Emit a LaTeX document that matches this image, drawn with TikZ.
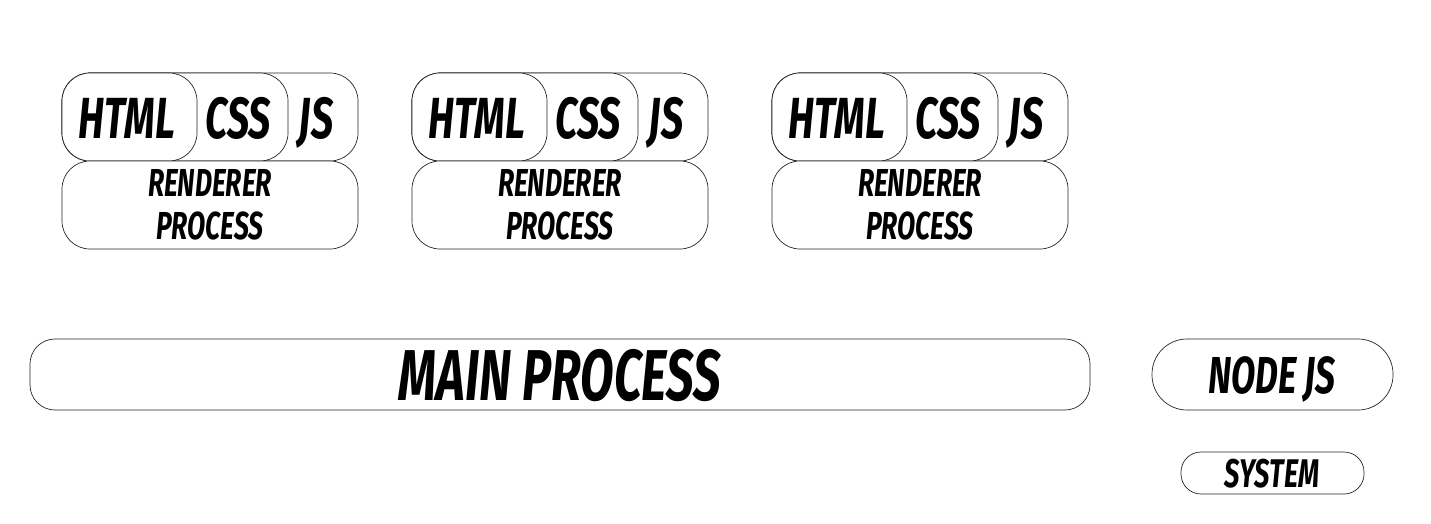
\documentclass[tikz,border=0pt]{standalone}
\usepackage{fontspec}
\newfontfamily\lab[FakeStretch=0.68]{Fira Sans}
\begin{document}
\begin{tikzpicture}[x=1pt,y=-1pt,
  box/.style={draw=black!85, line width=0.7pt, fill=white, inner sep=0pt, rounded corners=28pt},
  txt/.style={inner sep=0pt, text=black, anchor=base}]
\useasboundingbox (0,0) rectangle (1431,523);
\foreach \i/\dx in {1/0,2/350,3/710}{
  \node[box, minimum width=296pt, minimum height=88pt] (js\i) at (210+\dx,117) {};
  \node[box, minimum width=226pt, minimum height=88pt] (css\i) at (175+\dx,117) {};
  \node[box, minimum width=135pt, minimum height=88pt] (html\i) at (129.5+\dx,117) {};
  \node[box, minimum width=296pt, minimum height=88pt] (rend\i) at (210+\dx,205) {};
  \node[txt, font=\lab\bfseries\itshape\fontsize{58}{58}\selectfont] (thtml\i) at (127+\dx,138) {HTML};
  \node[txt, font=\lab\bfseries\itshape\fontsize{58}{58}\selectfont] (tcss\i) at (238+\dx,138) {CSS};
  \node[txt, font=\lab\bfseries\itshape\fontsize{58}{58}\selectfont] (tjs\i) at (316+\dx,138) {JS};
  \node[txt, font=\lab\bfseries\itshape\fontsize{39}{43}\selectfont] (trenda\i) at (210+\dx,196.5) {RENDERER};
  \node[txt, font=\lab\bfseries\itshape\fontsize{39}{43}\selectfont] (trendb\i) at (210+\dx,239.5) {PROCESS};
}
\node[box, rounded corners=25pt, minimum width=1060pt, minimum height=71pt] (main) at (560,374.5) {};
\node[txt, font=\lab\bfseries\itshape\fontsize{72}{72}\selectfont] (tmain) at (560,400) {MAIN PROCESS};
\node[box, rounded corners=35pt, minimum width=241pt, minimum height=71pt] (node) at (1272.5,374.5) {};
\node[txt, font=\lab\bfseries\itshape\fontsize{52}{52}\selectfont] (tnode) at (1272,393) {NODE JS};
\node[box, rounded corners=20pt, minimum width=183pt, minimum height=42pt] (sys) at (1272.5,473) {};
\node[txt, font=\lab\bfseries\itshape\fontsize{40}{40}\selectfont] (tsys) at (1272,487) {SYSTEM};
\end{tikzpicture}
\end{document}
